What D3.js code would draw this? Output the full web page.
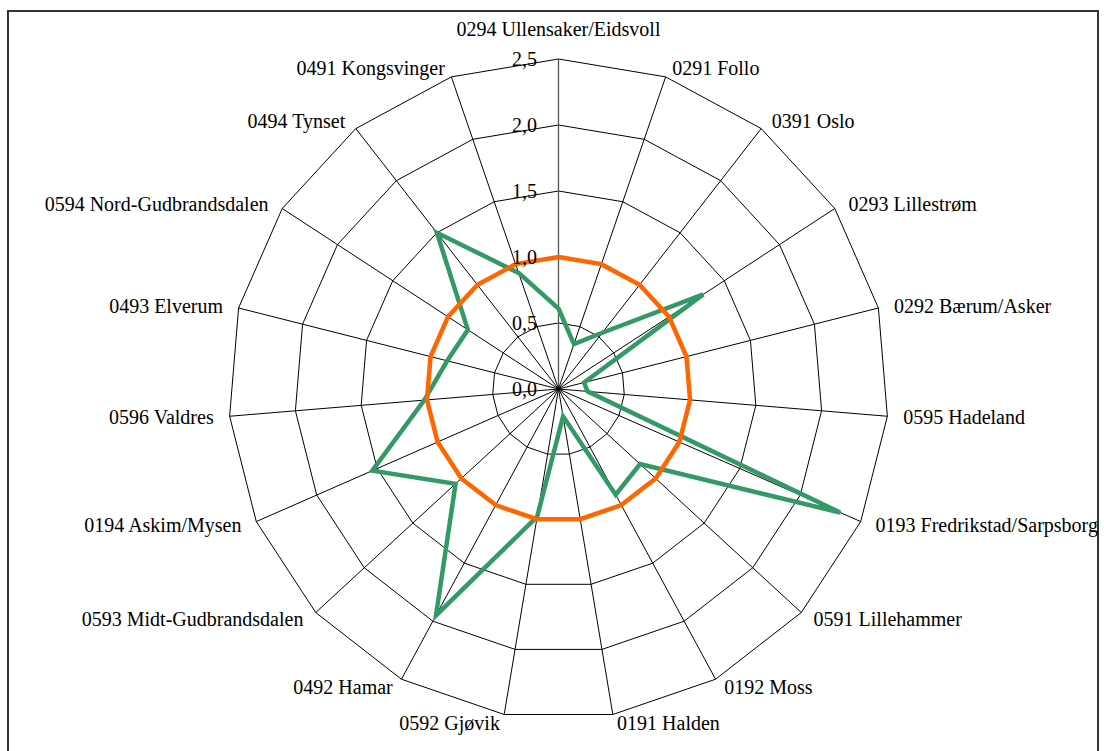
<!DOCTYPE html>
<html>
<head>
<meta charset="utf-8">
<script src="https://cdn.jsdelivr.net/npm/d3@7"></script>
<style>
  html, body { margin: 0; padding: 0; background: #fff; }
  svg { display: block; }
  text { font-family: "Liberation Serif", "Times New Roman", serif; font-size: 20px; fill: #000; }
</style>
</head>
<body>
<svg id="chart" width="1104" height="751"></svg>
<script>
// Regions, clockwise from the top
const categories = [
  "0294 Ullensaker/Eidsvoll", "0291 Follo", "0391 Oslo", "0293 Lillestrøm",
  "0292 Bærum/Asker", "0595 Hadeland", "0193 Fredrikstad/Sarpsborg",
  "0591 Lillehammer", "0192 Moss", "0191 Halden", "0592 Gjøvik", "0492 Hamar",
  "0593 Midt-Gudbrandsdalen", "0194 Askim/Mysen", "0596 Valdres", "0493 Elverum",
  "0594 Nord-Gudbrandsdalen", "0494 Tynset", "0491 Kongsvinger"
];
// Region index values (green series)
const regionValues = [
  0.61, 0.36, 0.54, 1.31, 0.20, 0.22, 2.33, 0.84, 0.91, 0.21,
  0.98, 1.95, 1.06, 1.54, 1.02, 0.87, 0.82, 1.50, 0.93
];
// Reference level (orange series)
const referenceValues = [
  1.0, 1.0, 1.0, 1.0, 1.0, 1.0, 1.0, 1.0, 1.0, 1.0,
  1.0, 1.0, 1.0, 1.0, 1.0, 1.0, 1.0, 1.0, 1.0
];
const tickValues = [0, 0.5, 1.0, 1.5, 2.0, 2.5];
const tickLabels = ["0,0", "0,5", "1,0", "1,5", "2,0", "2,5"];

const cx = 558.5, cy = 389, outerR = 330;
const svg = d3.select("#chart");

// outer frame
svg.append("rect")
  .attr("x", 8).attr("y", 11).attr("width", 1090).attr("height", 770)
  .attr("fill", "#fff").attr("stroke", "#333").attr("stroke-width", 2);

const r = d3.scaleLinear().domain([0, 2.5]).range([0, outerR]);
const angle = d3.scaleLinear().domain([0, categories.length]).range([0, 2 * Math.PI]);
const px = (i, v) => r(v) * Math.sin(angle(i));
const py = (i, v) => -r(v) * Math.cos(angle(i));

const g = svg.append("g").attr("transform", `translate(${cx},${cy})`);

const radial = d3.lineRadial()
  .curve(d3.curveLinearClosed)
  .angle((d, i) => angle(i))
  .radius(d => r(d));

// polygon rings
g.append("g").selectAll("path")
  .data(tickValues.slice(1))
  .join("path")
  .attr("d", t => radial(categories.map(() => t)))
  .attr("fill", "none").attr("stroke", "#000").attr("stroke-width", 1);

// spokes
g.append("g").selectAll("line")
  .data(categories)
  .join("line")
  .attr("x1", 0).attr("y1", 0)
  .attr("x2", (d, i) => px(i, 2.5))
  .attr("y2", (d, i) => py(i, 2.5))
  .attr("stroke", (d, i) => i === 0 ? "#555" : "#000")
  .attr("stroke-width", (d, i) => i === 0 ? 1.3 : 1);

// data series
g.append("path")
  .attr("d", radial(regionValues))
  .attr("fill", "none").attr("stroke", "#339966")
  .attr("stroke-width", 4.5).attr("stroke-linejoin", "miter");

g.append("path")
  .attr("d", radial(referenceValues))
  .attr("fill", "none").attr("stroke", "#FF6600")
  .attr("stroke-width", 4.5).attr("stroke-linejoin", "miter");

// category labels
g.append("g").selectAll("text")
  .data(categories)
  .join("text")
  .each(function (d, i) {
    const a = angle(i), s = Math.sin(a), c = Math.cos(a);
    const vx = px(i, 2.5), vy = py(i, 2.5);
    let x, y, anchor;
    if (Math.abs(s) < 0.05) {
      x = vx; y = vy - 30; anchor = "middle";
    } else {
      x = vx + Math.sign(s) * (14 * Math.abs(s) + 2);
      y = vy - 9 * c;
      anchor = s > 0 ? "start" : "end";
    }
    d3.select(this)
      .attr("x", x).attr("y", y + 7)
      .attr("text-anchor", anchor)
      .text(d);
  });

// value axis labels
g.append("g").selectAll("text")
  .data(tickValues)
  .join("text")
  .attr("x", -21.5)
  .attr("y", t => -r(t) + 7)
  .attr("text-anchor", "end")
  .text((t, i) => tickLabels[i]);
</script>
</body>
</html>
